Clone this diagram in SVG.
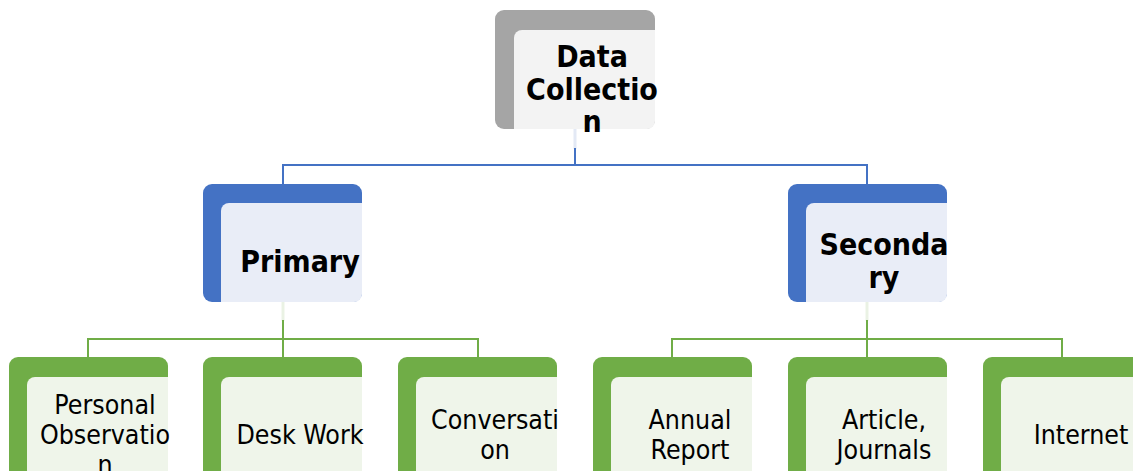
<svg xmlns="http://www.w3.org/2000/svg" width="1133" height="471" viewBox="0 0 1133 471">
<style>
.b{font-family:"DejaVu Sans Condensed","DejaVu Sans",sans-serif;font-stretch:condensed;font-weight:bold;font-size:30px;fill:#000;text-anchor:middle}
.r{font-family:"DejaVu Sans Condensed","DejaVu Sans",sans-serif;font-stretch:condensed;font-size:26.5px;fill:#000;text-anchor:middle}
.cb{stroke:#4472c4;stroke-width:2;fill:none}
.cg{stroke:#70ad47;stroke-width:2;fill:none}
.lb{stroke:#e3e9f5;stroke-width:3;fill:none}
.lg{stroke:#eaf2e4;stroke-width:3;fill:none}
.og{fill:#a5a5a5}.ig{fill:#f3f3f3}
.ob{fill:#4472c4}.ib{fill:#e9edf7}
.oG{fill:#70ad47}.iG{fill:#eff5ea}
</style>
<defs>
<path id="inner" d="M8 0H141V91A8 8 0 0 1 133 99H0V8A8 8 0 0 1 8 0Z"/>
<path id="innerC" d="M8 0H141V110H0V8A8 8 0 0 1 8 0Z"/>
</defs>
<rect width="1133" height="471" fill="#fff"/>
<g id="connectors">
<line class="lb" x1="575" y1="129" x2="575" y2="149"/>
<path class="cb" d="M575 148V165M283 184V165H867V184"/>
<line class="lg" x1="283" y1="302" x2="283" y2="321"/>
<line class="lg" x1="867" y1="302" x2="867" y2="321"/>
<path class="cg" d="M283 320V339M88 357V339H478V357M283 339V357"/>
<path class="cg" d="M867 320V339M672 357V339H1062V357M867 339V357"/>
</g>
<g id="data-collection">
<rect class="og" x="495" y="10" width="160" height="119" rx="9"/>
<use href="#inner" class="ig" x="514" y="30"/>
<text class="b" x="592" y="67">Data</text>
<text class="b" x="592" y="100">Collectio</text>
<text class="b" x="592" y="132">n</text>
</g>
<g id="primary">
<rect class="ob" x="203" y="184" width="159" height="118" rx="9"/>
<use href="#inner" class="ib" x="221" y="203"/>
<text class="b" x="300" y="272">Primary</text>
</g>
<g id="secondary">
<rect class="ob" x="788" y="184" width="159" height="118" rx="9"/>
<use href="#inner" class="ib" x="806" y="203"/>
<text class="b" x="884" y="255">Seconda</text>
<text class="b" x="884" y="288">ry</text>
</g>
<g id="personal-observation">
<rect class="oG" x="9" y="357" width="159" height="122" rx="9"/>
<use href="#innerC" class="iG" x="27" y="377"/>
<text class="r" x="105" y="414">Personal</text>
<text class="r" x="105" y="444">Observatio</text>
<text class="r" x="105" y="474">n</text>
</g>
<g id="desk-work">
<rect class="oG" x="203" y="357" width="159" height="122" rx="9"/>
<use href="#innerC" class="iG" x="221" y="377"/>
<text class="r" x="300" y="444">Desk Work</text>
</g>
<g id="conversation">
<rect class="oG" x="398" y="357" width="159" height="122" rx="9"/>
<use href="#innerC" class="iG" x="416" y="377"/>
<text class="r" x="495" y="429">Conversati</text>
<text class="r" x="495" y="459">on</text>
</g>
<g id="annual-report">
<rect class="oG" x="593" y="357" width="159" height="122" rx="9"/>
<use href="#innerC" class="iG" x="611" y="377"/>
<text class="r" x="690" y="429">Annual</text>
<text class="r" x="690" y="459">Report</text>
</g>
<g id="article-journals">
<rect class="oG" x="788" y="357" width="159" height="122" rx="9"/>
<use href="#innerC" class="iG" x="806" y="377"/>
<text class="r" x="884" y="429">Article,</text>
<text class="r" x="884" y="459">Journals</text>
</g>
<g id="internet">
<rect class="oG" x="983" y="357" width="159" height="122" rx="9"/>
<use href="#innerC" class="iG" x="1001" y="377"/>
<text class="r" x="1081" y="444">Internet</text>
</g>
</svg>
